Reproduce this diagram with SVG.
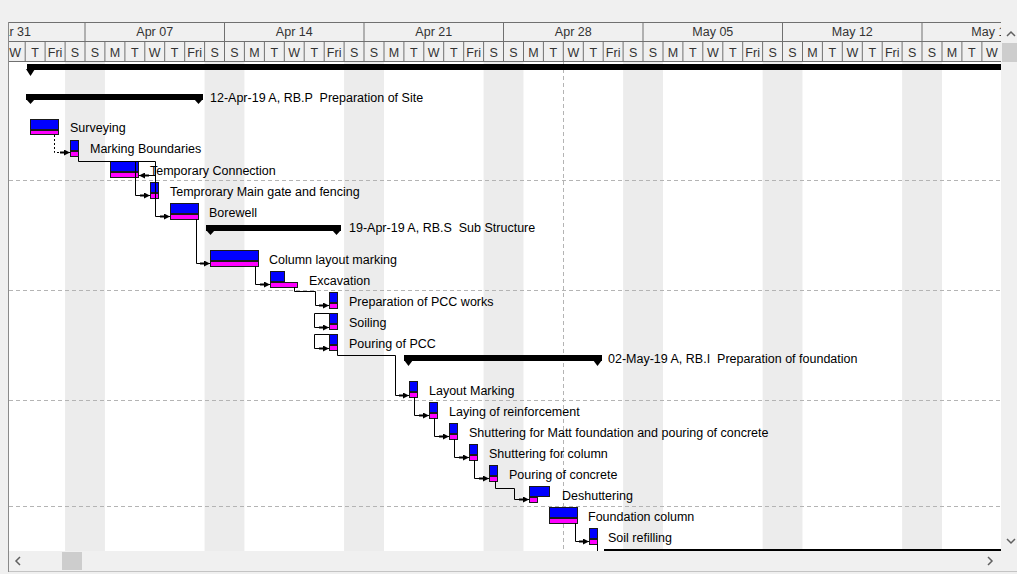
<svg xmlns="http://www.w3.org/2000/svg" width="1017" height="574" viewBox="0 0 1017 574">
  <style>
    .lbl { font-family: "Liberation Sans", Arial, sans-serif; font-size: 12.5px; fill: #000; white-space: pre; }
    .hdr { font-family: "Liberation Sans", Arial, sans-serif; font-size: 12.5px; fill: #333; text-anchor: middle; }
    .act { fill: #0000ff; stroke: #1a1a1a; stroke-width: 1; }
    .base { fill: #ff00ff; stroke: #1a1a1a; stroke-width: 1; }
    .sum { fill: #000; }
    .conn { fill: none; stroke: #000; stroke-width: 1; marker-end: url(#arrow); }
    .dot { stroke-dasharray: 2 2; }
    .grid { stroke: #b4b4b4; stroke-width: 1; stroke-dasharray: 4 3; fill: none; }
    .wknd { fill: #ececec; }
    .hline { stroke: #707070; stroke-width: 1; }
  </style>
  <defs>
    <marker id="arrow" viewBox="0 0 10 6" refX="10" refY="3" markerWidth="10" markerHeight="6" markerUnits="userSpaceOnUse" orient="auto">
      <path d="M0,2 H4 V0 L10,3 L4,6 V4 H0 Z" fill="#000"/>
    </marker>
    <clipPath id="chart"><rect x="9" y="22" width="992" height="529"/></clipPath>
  </defs>

  <!-- window background -->
  <rect x="0" y="0" width="1017" height="574" fill="#f0f0f0"/>
  <rect x="9" y="62" width="992" height="489" fill="#ffffff"/>

  <g clip-path="url(#chart)">
    <!-- weekend columns -->
    <g id="weekends">
      <rect class="wknd" x="65.07" y="62" width="39.86" height="489"/>
      <rect class="wknd" x="204.58" y="62" width="39.86" height="489"/>
      <rect class="wknd" x="344.09" y="62" width="39.86" height="489"/>
      <rect class="wknd" x="483.6" y="62" width="39.86" height="489"/>
      <rect class="wknd" x="623.11" y="62" width="39.86" height="489"/>
      <rect class="wknd" x="762.62" y="62" width="39.86" height="489"/>
      <rect class="wknd" x="902.13" y="62" width="39.86" height="489"/>
    </g>
    <!-- row band separators and data date -->
    <g id="gridlines">
      <line class="grid" x1="9" y1="180.5" x2="1001" y2="180.5"/>
      <line class="grid" x1="9" y1="290.5" x2="1001" y2="290.5"/>
      <line class="grid" x1="9" y1="400.5" x2="1001" y2="400.5"/>
      <line class="grid" x1="9" y1="506.5" x2="1001" y2="506.5"/>
      <line class="grid" x1="563.5" y1="62" x2="563.5" y2="551"/>
    </g>

    <!-- timescale header -->
    <g id="timescale">
      <rect x="9" y="22" width="992" height="40" fill="#f0f0f0"/>
      <line class="hline" x1="9" y1="22.5" x2="1001" y2="22.5"/>
      <line class="hline" x1="9" y1="41.5" x2="1001" y2="41.5"/>
      <line class="hline" x1="9" y1="61.5" x2="1001" y2="61.5"/>
      <!-- week boundaries -->
      <g class="hline">
        <line x1="85" y1="22" x2="85" y2="62"/>
        <line x1="224.5" y1="22" x2="224.5" y2="62"/>
        <line x1="364" y1="22" x2="364" y2="62"/>
        <line x1="503.5" y1="22" x2="503.5" y2="62"/>
        <line x1="643" y1="22" x2="643" y2="62"/>
        <line x1="782.5" y1="22" x2="782.5" y2="62"/>
        <line x1="922" y1="22" x2="922" y2="62"/>
      </g>
      <!-- day boundaries -->
      <g class="hline">
        <line x1="25.2" y1="41" x2="25.2" y2="62"/>
        <line x1="45.1" y1="41" x2="45.1" y2="62"/>
        <line x1="65.1" y1="41" x2="65.1" y2="62"/>
        <line x1="104.9" y1="41" x2="104.9" y2="62"/>
        <line x1="124.9" y1="41" x2="124.9" y2="62"/>
        <line x1="144.8" y1="41" x2="144.8" y2="62"/>
        <line x1="164.7" y1="41" x2="164.7" y2="62"/>
        <line x1="184.7" y1="41" x2="184.7" y2="62"/>
        <line x1="204.6" y1="41" x2="204.6" y2="62"/>
        <line x1="244.4" y1="41" x2="244.4" y2="62"/>
        <line x1="264.4" y1="41" x2="264.4" y2="62"/>
        <line x1="284.3" y1="41" x2="284.3" y2="62"/>
        <line x1="304.2" y1="41" x2="304.2" y2="62"/>
        <line x1="324.2" y1="41" x2="324.2" y2="62"/>
        <line x1="344.1" y1="41" x2="344.1" y2="62"/>
        <line x1="384" y1="41" x2="384" y2="62"/>
        <line x1="403.9" y1="41" x2="403.9" y2="62"/>
        <line x1="423.8" y1="41" x2="423.8" y2="62"/>
        <line x1="443.7" y1="41" x2="443.7" y2="62"/>
        <line x1="463.7" y1="41" x2="463.7" y2="62"/>
        <line x1="483.6" y1="41" x2="483.6" y2="62"/>
        <line x1="523.5" y1="41" x2="523.5" y2="62"/>
        <line x1="543.4" y1="41" x2="543.4" y2="62"/>
        <line x1="563.3" y1="41" x2="563.3" y2="62"/>
        <line x1="583.3" y1="41" x2="583.3" y2="62"/>
        <line x1="603.2" y1="41" x2="603.2" y2="62"/>
        <line x1="623.1" y1="41" x2="623.1" y2="62"/>
        <line x1="663" y1="41" x2="663" y2="62"/>
        <line x1="682.9" y1="41" x2="682.9" y2="62"/>
        <line x1="702.8" y1="41" x2="702.8" y2="62"/>
        <line x1="722.8" y1="41" x2="722.8" y2="62"/>
        <line x1="742.7" y1="41" x2="742.7" y2="62"/>
        <line x1="762.6" y1="41" x2="762.6" y2="62"/>
        <line x1="802.5" y1="41" x2="802.5" y2="62"/>
        <line x1="822.4" y1="41" x2="822.4" y2="62"/>
        <line x1="842.3" y1="41" x2="842.3" y2="62"/>
        <line x1="862.3" y1="41" x2="862.3" y2="62"/>
        <line x1="882.2" y1="41" x2="882.2" y2="62"/>
        <line x1="902.1" y1="41" x2="902.1" y2="62"/>
        <line x1="942" y1="41" x2="942" y2="62"/>
        <line x1="961.9" y1="41" x2="961.9" y2="62"/>
        <line x1="981.9" y1="41" x2="981.9" y2="62"/>
      </g>
      <!-- week labels -->
      <g class="hdr">
        <text x="31" y="36" text-anchor="end">Mar 31</text>
        <text x="154.76" y="36">Apr 07</text>
        <text x="294.27" y="36">Apr 14</text>
        <text x="433.78" y="36">Apr 21</text>
        <text x="573.29" y="36">Apr 28</text>
        <text x="712.8" y="36">May 05</text>
        <text x="852.31" y="36">May 12</text>
        <text x="991.82" y="36">May 19</text>
      </g>
      <!-- day labels -->
      <g class="hdr">
        <text x="15.25" y="56.5">W</text><text x="35.18" y="56.5">T</text><text x="55.11" y="56.5">Fri</text><text x="75.04" y="56.5">S</text>
        <text x="94.97" y="56.5">S</text><text x="114.9" y="56.5">M</text><text x="134.83" y="56.5">T</text><text x="154.76" y="56.5">W</text><text x="174.69" y="56.5">T</text><text x="194.62" y="56.5">Fri</text><text x="214.55" y="56.5">S</text>
        <text x="234.48" y="56.5">S</text><text x="254.41" y="56.5">M</text><text x="274.34" y="56.5">T</text><text x="294.27" y="56.5">W</text><text x="314.2" y="56.5">T</text><text x="334.13" y="56.5">Fri</text><text x="354.06" y="56.5">S</text>
        <text x="373.99" y="56.5">S</text><text x="393.92" y="56.5">M</text><text x="413.85" y="56.5">T</text><text x="433.78" y="56.5">W</text><text x="453.71" y="56.5">T</text><text x="473.64" y="56.5">Fri</text><text x="493.57" y="56.5">S</text>
        <text x="513.5" y="56.5">S</text><text x="533.43" y="56.5">M</text><text x="553.36" y="56.5">T</text><text x="573.29" y="56.5">W</text><text x="593.22" y="56.5">T</text><text x="613.15" y="56.5">Fri</text><text x="633.08" y="56.5">S</text>
        <text x="653.01" y="56.5">S</text><text x="672.94" y="56.5">M</text><text x="692.87" y="56.5">T</text><text x="712.8" y="56.5">W</text><text x="732.73" y="56.5">T</text><text x="752.66" y="56.5">Fri</text><text x="772.59" y="56.5">S</text>
        <text x="792.52" y="56.5">S</text><text x="812.45" y="56.5">M</text><text x="832.38" y="56.5">T</text><text x="852.31" y="56.5">W</text><text x="872.24" y="56.5">T</text><text x="892.17" y="56.5">Fri</text><text x="912.1" y="56.5">S</text>
        <text x="932.03" y="56.5">S</text><text x="951.96" y="56.5">M</text><text x="971.89" y="56.5">T</text><text x="991.82" y="56.5">W</text>
      </g>
    </g>

    <!-- summary (WBS) bars -->
    <g id="wbs-project">
      <rect class="sum" x="27" y="64" width="974" height="6"/>
      <polygon class="sum" points="26,69 35,69 30.5,76"/>
    </g>
    <g id="wbs-preparation-of-site">
      <rect class="sum" x="26" y="94" width="177" height="6"/>
      <polygon class="sum" points="26,99 35,99 30.5,104"/>
      <polygon class="sum" points="194,99 203,99 198.5,104"/>
      <text class="lbl" x="210" y="102">12-Apr-19 A, RB.P  Preparation of Site</text>
    </g>
    <g id="wbs-sub-structure">
      <rect class="sum" x="206" y="225" width="135" height="6"/>
      <polygon class="sum" points="206,230 215,230 210.5,235"/>
      <polygon class="sum" points="332,230 341,230 336.5,235"/>
      <text class="lbl" x="349" y="232">19-Apr-19 A, RB.S  Sub Structure</text>
    </g>
    <g id="wbs-preparation-of-foundation">
      <rect class="sum" x="404" y="355" width="198" height="6"/>
      <polygon class="sum" points="404,360 413,360 408.5,366"/>
      <polygon class="sum" points="593,360 602,360 597.5,366"/>
      <text class="lbl" x="608" y="363">02-May-19 A, RB.I  Preparation of foundation</text>
    </g>
    <g id="wbs-next">
      <rect class="sum" x="604" y="549" width="397" height="2"/>
    </g>

    <!-- activities -->
    <g id="task-surveying">
      <rect class="act" x="30.5" y="119.5" width="28" height="10"/>
      <rect class="base" x="30.5" y="130.5" width="28" height="4"/>
      <text class="lbl" x="70" y="131.5">Surveying</text>
    </g>
    <g id="task-marking-boundaries">
      <rect class="act" x="70.5" y="140.5" width="8" height="10"/>
      <rect class="base" x="70.5" y="151.5" width="8" height="5"/>
      <text class="lbl" x="90" y="152.5">Marking Boundaries</text>
    </g>
    <g id="task-temporary-connection">
      <rect class="act" x="110.5" y="161.5" width="28" height="10"/>
      <rect class="base" x="110.5" y="172.5" width="28" height="5"/>
      <text class="lbl" x="150" y="174.5">Temporary Connection</text>
    </g>
    <g id="task-main-gate">
      <rect class="act" x="150.5" y="182.5" width="8" height="10"/>
      <rect class="base" x="150.5" y="193.5" width="8" height="5"/>
      <text class="lbl" x="170" y="195.5">Temprorary Main gate and fencing</text>
    </g>
    <g id="task-borewell">
      <rect class="act" x="170.5" y="203.5" width="28" height="10"/>
      <rect class="base" x="170.5" y="214.5" width="28" height="5"/>
      <text class="lbl" x="209" y="216.5">Borewell</text>
    </g>
    <g id="task-column-layout-marking">
      <rect class="act" x="210.5" y="250.5" width="48" height="10"/>
      <rect class="base" x="210.5" y="261.5" width="48" height="5"/>
      <text class="lbl" x="269" y="263.5">Column layout marking</text>
    </g>
    <g id="task-excavation">
      <rect class="act" x="270.5" y="271.5" width="14" height="10"/>
      <rect class="base" x="270.5" y="282.5" width="27" height="5"/>
      <text class="lbl" x="309" y="284.5">Excavation</text>
    </g>
    <g id="task-preparation-of-pcc">
      <rect class="act" x="329.5" y="292.5" width="8" height="10"/>
      <rect class="base" x="329.5" y="303.5" width="8" height="5"/>
      <text class="lbl" x="349" y="305.5">Preparation of PCC works</text>
    </g>
    <g id="task-soiling">
      <rect class="act" x="329.5" y="313.5" width="8" height="10"/>
      <rect class="base" x="329.5" y="324.5" width="8" height="5"/>
      <text class="lbl" x="349" y="326.5">Soiling</text>
    </g>
    <g id="task-pouring-of-pcc">
      <rect class="act" x="329.5" y="334.5" width="8" height="10"/>
      <rect class="base" x="329.5" y="345.5" width="8" height="5"/>
      <text class="lbl" x="349" y="347.5">Pouring of PCC</text>
    </g>
    <g id="task-layout-marking">
      <rect class="act" x="409.5" y="381.5" width="8" height="10"/>
      <rect class="base" x="409.5" y="392.5" width="8" height="5"/>
      <text class="lbl" x="429" y="394.5">Layout Marking</text>
    </g>
    <g id="task-laying-of-reinforcement">
      <rect class="act" x="429.5" y="402.5" width="8" height="10"/>
      <rect class="base" x="429.5" y="413.5" width="8" height="5"/>
      <text class="lbl" x="449" y="415.5">Laying of reinforcement</text>
    </g>
    <g id="task-shuttering-matt">
      <rect class="act" x="449.5" y="423.5" width="8" height="10"/>
      <rect class="base" x="449.5" y="434.5" width="8" height="5"/>
      <text class="lbl" x="469" y="436.5">Shuttering for Matt foundation and pouring of concrete</text>
    </g>
    <g id="task-shuttering-column">
      <rect class="act" x="469.5" y="444.5" width="8" height="10"/>
      <rect class="base" x="469.5" y="455.5" width="8" height="5"/>
      <text class="lbl" x="489" y="457.5">Shuttering for column</text>
    </g>
    <g id="task-pouring-of-concrete">
      <rect class="act" x="489.5" y="465.5" width="8" height="10"/>
      <rect class="base" x="489.5" y="476.5" width="8" height="5"/>
      <text class="lbl" x="509" y="478.5">Pouring of concrete</text>
    </g>
    <g id="task-deshuttering">
      <rect class="act" x="529.5" y="486.5" width="20" height="10"/>
      <rect class="base" x="529.5" y="497.5" width="8" height="5"/>
      <text class="lbl" x="562" y="499.5">Deshuttering</text>
    </g>
    <g id="task-foundation-column">
      <rect class="act" x="549.5" y="507.5" width="28" height="10"/>
      <rect class="base" x="549.5" y="518.5" width="28" height="5"/>
      <text class="lbl" x="588" y="520.5">Foundation column</text>
    </g>
    <g id="task-soil-refilling">
      <rect class="act" x="589.5" y="528.5" width="8" height="10"/>
      <rect class="base" x="589.5" y="539.5" width="8" height="5"/>
      <text class="lbl" x="608" y="542">Soil refilling</text>
    </g>

    <!-- relationship lines -->
    <g id="connectors">
      <path class="conn dot" d="M54.5,135 V152.5 H70"/>
      <path class="conn" d="M78.5,157 V161.5 H155.5 V175.5 H139"/>
      <path class="conn" d="M135.5,161 V195.5 H150"/>
      <path class="conn" d="M155.5,175 V216.5 H170"/>
      <path class="conn" d="M196.5,219 V263.5 H210"/>
      <path class="conn" d="M255.5,266 V284.5 H270"/>
      <path class="conn" d="M294.5,287 V291.5 H315.5 V305.5 H329"/>
      <path class="conn" d="M329,313.5 H314.5 V327.5 H329"/>
      <path class="conn" d="M329,334.5 H314.5 V348.5 H329"/>
      <path class="conn" d="M337.5,350 V355.5 H395.5 V395.5 H409"/>
      <path class="conn" d="M414.5,397 V415.5 H429"/>
      <path class="conn" d="M434.5,418 V436.5 H449"/>
      <path class="conn" d="M454.5,439 V457.5 H469"/>
      <path class="conn" d="M474.5,460 V478.5 H489"/>
      <path class="conn" d="M495.5,481 V488.5 H514.5 V499.5 H529"/>
      <path class="conn" d="M575.5,523 V541.5 H589"/>
      <path d="M597.5,544 V551" fill="none" stroke="#000"/>
    </g>
  </g>

  <!-- frame and scroll bars -->
  <g id="frame">
    <line x1="8.5" y1="22" x2="8.5" y2="572" stroke="#8a8a8a"/>
    <rect x="1001" y="22" width="16" height="529" fill="#f0f0f0"/>
    <rect x="1002" y="43" width="15" height="19" fill="#cdcdcd"/>
    <path d="M1007,36 L1011,32 L1015,36" fill="none" stroke="#606060" stroke-width="1.5"/>
    <path d="M1007,539 L1011,543 L1015,539" fill="none" stroke="#606060" stroke-width="1.5"/>
    <rect x="9" y="551" width="1008" height="20" fill="#f0f0f0"/>
    <rect x="62" y="552" width="20" height="18" fill="#cdcdcd"/>
    <path d="M20,557 L16,561 L20,565" fill="none" stroke="#606060" stroke-width="1.5"/>
    <path d="M988,557 L992,561 L988,565" fill="none" stroke="#606060" stroke-width="1.5"/>
    <line x1="9" y1="571.5" x2="1017" y2="571.5" stroke="#c4c4c4"/>
  </g>
</svg>
